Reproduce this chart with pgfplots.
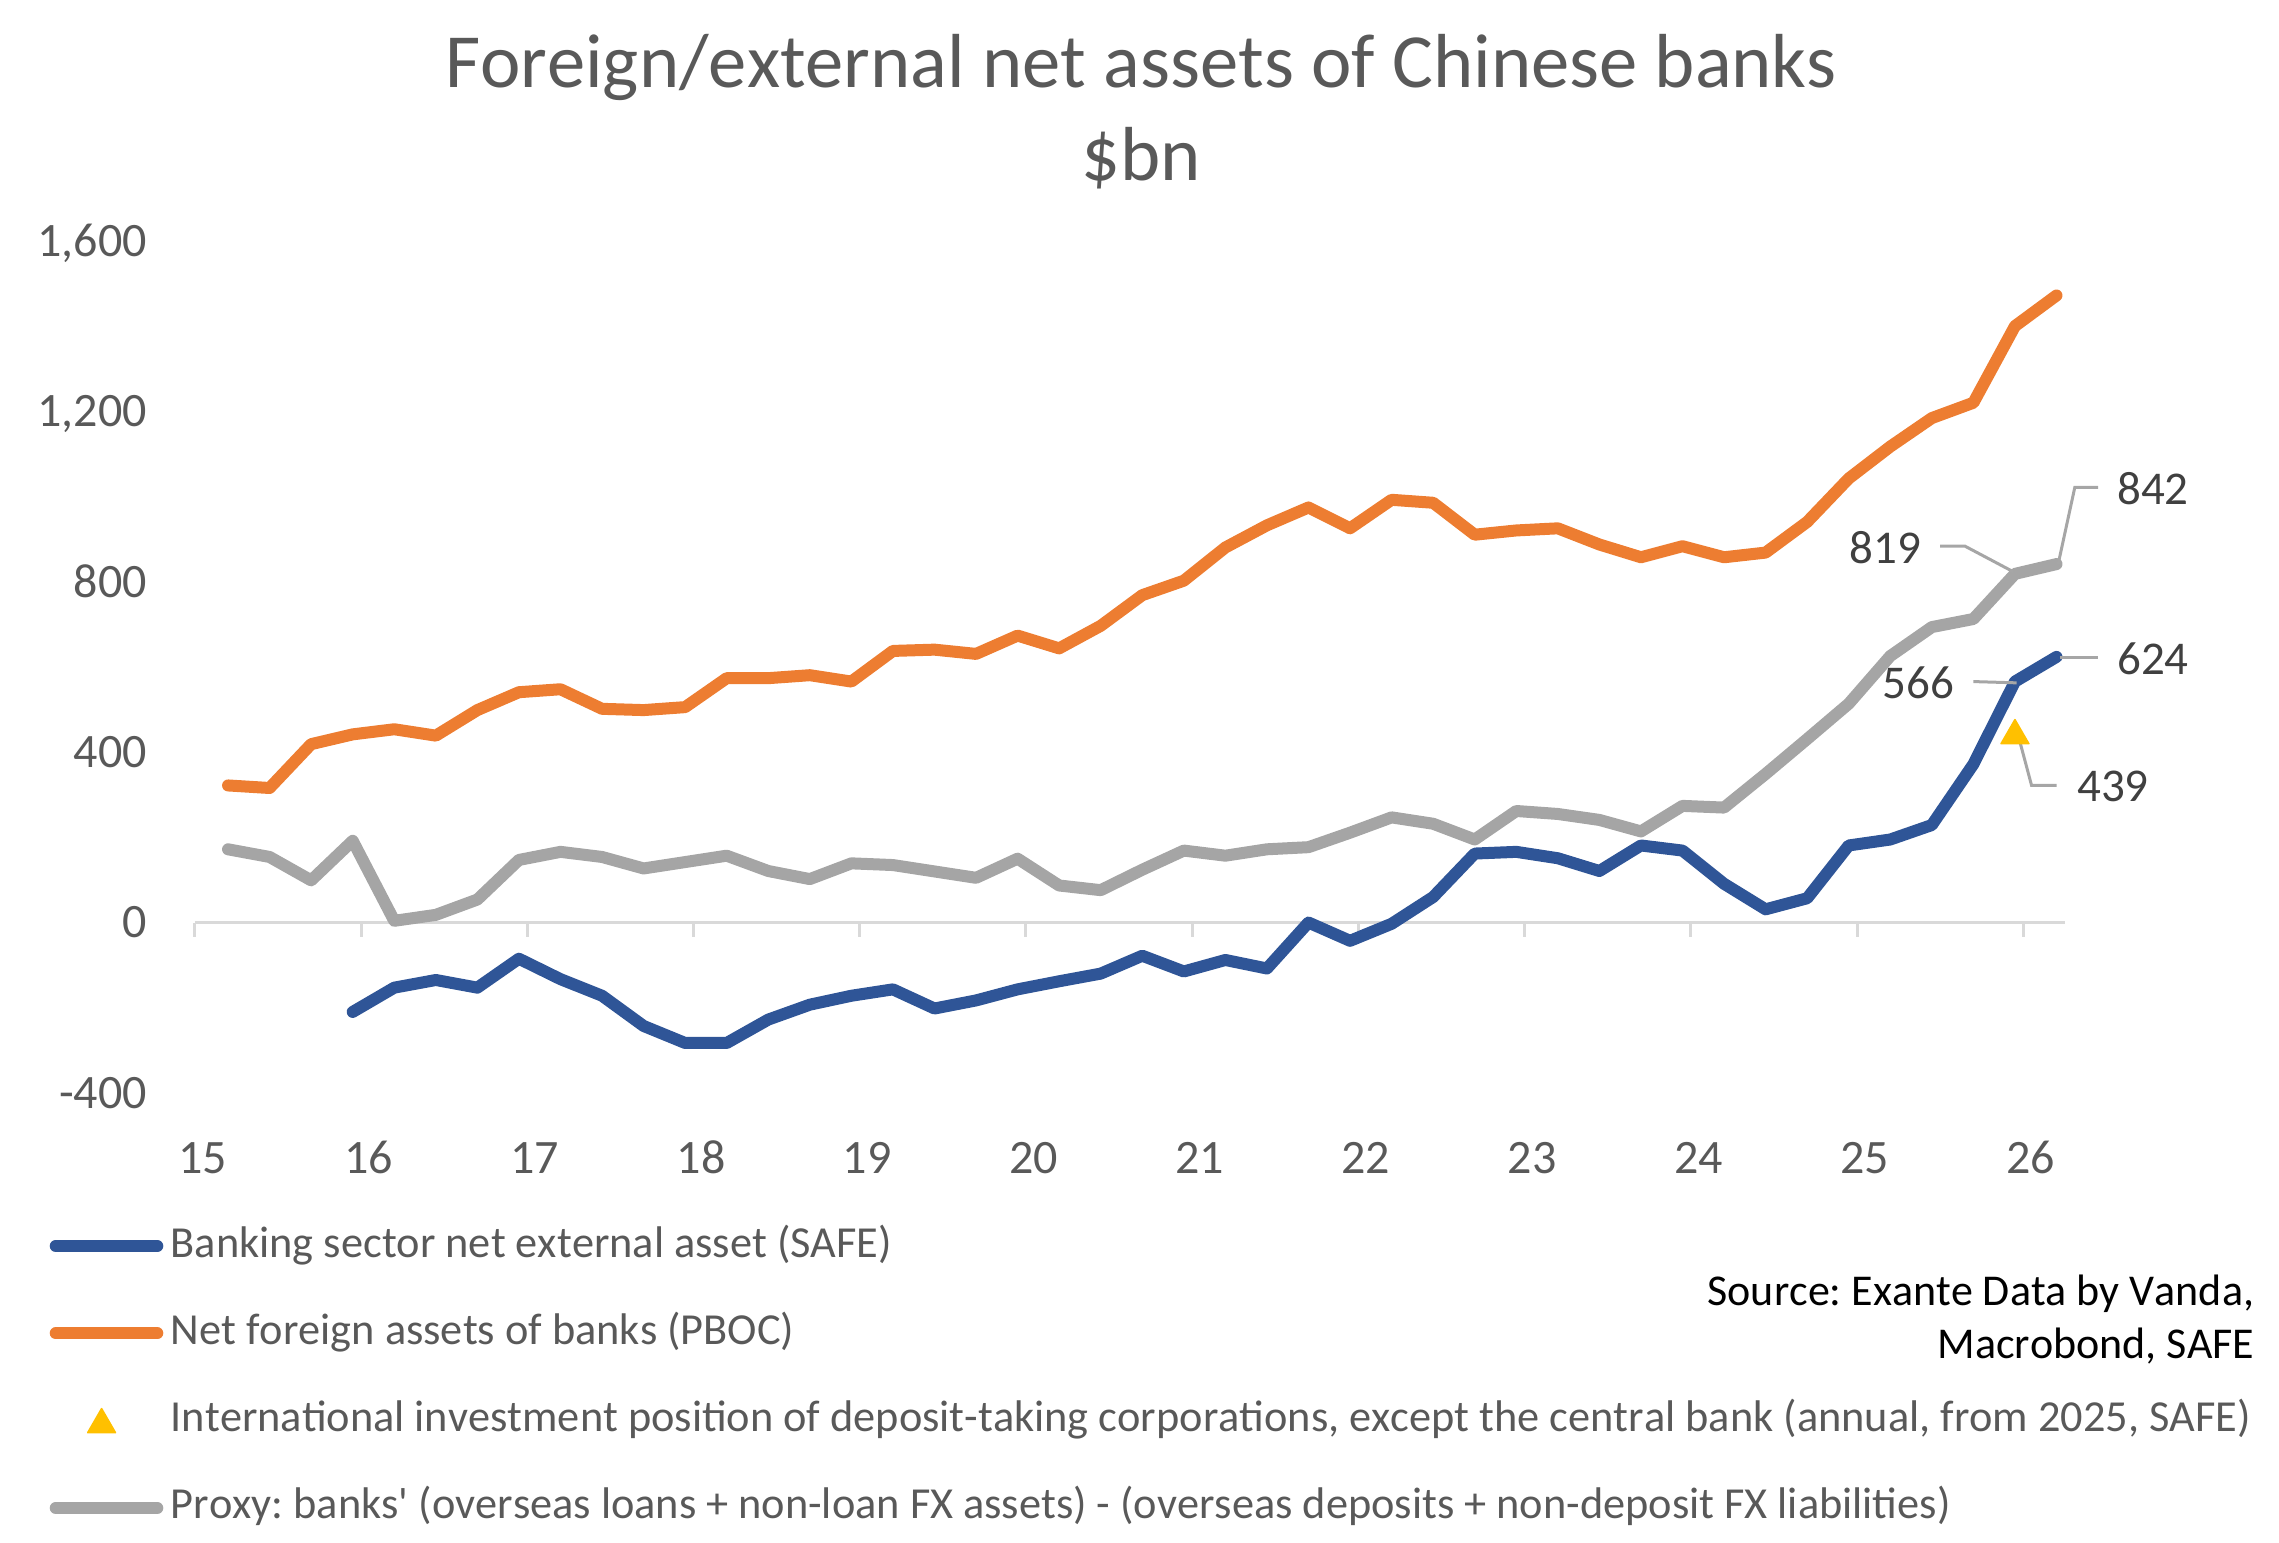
\documentclass[border=0pt]{standalone}
\usepackage{fontspec}
\setmainfont{Carlito}[Kerning=Off]
\usepackage{pgfplots}
\pgfplotsset{compat=1.18}
\usepackage{pgfplotstable}
\frenchspacing
\definecolor{cblue}{HTML}{2F5597}
\definecolor{corange}{HTML}{ED7D31}
\definecolor{cgray}{HTML}{A5A5A5}
\definecolor{cgold}{HTML}{FFC000}
\definecolor{ctext}{HTML}{595959}
\definecolor{clabel}{HTML}{404040}
\definecolor{caxis}{HTML}{D9D9D9}
\definecolor{cleader}{HTML}{A6A6A6}

\pgfplotstableread{
x blue orange gray
15.20 nan 322 172
15.45 nan 316 154
15.70 nan 419 99
15.95 -210 442 192
16.20 -153 454 4
16.45 -135 439 18
16.70 -153 499 54
16.95 -85 541 147
17.20 -133 548 166
17.45 -172 502 154
17.70 -243 499 127
17.95 -283 506 142
18.20 -283 574 157
18.45 -228 574 121
18.70 -193 581 102
18.95 -172 566 139
19.20 -157 638 135
19.45 -202 641 120
19.70 -183 631 105
19.95 -157 674 150
20.20 -138 644 87
20.45 -120 697 76
20.70 -78 769 124
20.95 -115 803 169
21.20 -88 881 157
21.45 -108 933 172
21.70 0 975 177
21.95 -43 926 211
22.20 -3 993 247
22.45 60 986 232
22.70 162 911 195
22.95 166 921 262
23.20 151 926 255
23.45 121 888 241
23.70 181 858 214
23.95 169 884 274
24.20 91 858 270
24.45 31 869 349
24.70 57 941 431
24.95 181 1043 514
25.20 195 1118 626
25.45 229 1185 694
25.70 372 1221 713
25.95 566 1401 819
26.20 624 1473 842
}\datatable

\pgfplotstableread{
x y
25.95 439
}\iipdata

\begin{document}
\begin{tikzpicture}
\useasboundingbox (0pt,0pt) rectangle (569.75pt,385.5pt);
\node[anchor=base, font=\fontsize{19.15}{23}\selectfont, text=ctext, inner sep=0pt] at (285.25pt,363.5pt) {Foreign/external net assets of Chinese banks};
\node[anchor=base, font=\fontsize{19.15}{23}\selectfont, text=ctext, inner sep=0pt] at (285.25pt,340.25pt) {\$bn};
\begin{axis}[
  at={(48.7pt,112.3pt)}, anchor=south west,
  width=467.5pt, height=212.85pt, scale only axis,
  xmin=15, xmax=26.25, ymin=-400, ymax=1600,
  clip=false,
  axis x line*=bottom, axis y line*=left,
  axis line style={draw=none},
  tick style={draw=none},
  xtick={15,16,17,18,19,20,21,22,23,24,25,26},
  xticklabels={15,16,17,18,19,20,21,22,23,24,25,26},
  ytick={-400,0,400,800,1200,1600},
  yticklabels={-400,0,400,800,{1,200},{1,600}},
  xticklabel style={font=\fontsize{12}{14}\selectfont, text=ctext, anchor=base, inner sep=0pt, outer sep=0pt, yshift=-20.2pt, xshift=1.9pt},
  yticklabel style={font=\fontsize{12}{14}\selectfont, text=ctext, anchor=base east, inner sep=0pt, outer sep=0pt, xshift=-12pt, yshift=-3.8pt},
  legend cell align=left,
  legend style={at={(-0.08079,-0.15528)}, anchor=north west, draw=none, fill=none,
    inner sep=0pt, outer sep=0pt, row sep=11.33pt, column sep=-0.73pt,
    font=\fontsize{11.08}{13}\selectfont,
    nodes={inner sep=0pt, outer sep=0pt, text height=8pt, text depth=2.5pt, text=ctext}},
  every axis plot/.append style={line join=round, line cap=round},
]
\draw[caxis, line width=0.75pt] (axis cs:15,0) -- (axis cs:26.25,0);
\pgfplotsinvokeforeach{15,...,26}{\draw[caxis, line width=0.75pt] (axis cs:#1,0) -- ++(0pt,-3.5pt);}

\addplot[cblue, line width=3pt, unbounded coords=jump,
  legend image code/.code={\path (0pt,0pt) (29.5pt,0pt); \draw[cblue, line width=3pt, line cap=round] (1.5pt,0pt) -- (26.9pt,0pt);}]
  table[x=x,y=blue]{\datatable};
\addlegendentry{Banking sector net external asset (SAFE)}

\addplot[corange, line width=3pt,
  legend image code/.code={\path (0pt,0pt) (29.5pt,0pt); \draw[corange, line width=3pt, line cap=round] (1.5pt,0pt) -- (26.9pt,0pt);}]
  table[x=x,y=orange]{\datatable};
\addlegendentry{Net foreign assets of banks (PBOC)}

\addplot[only marks, mark=triangle*, mark size=4pt, color=cgold, mark options={fill=cgold, draw=cgold},
  legend image code/.code={\path (0pt,0pt) (29.5pt,0pt); \draw[only marks, mark=triangle*, mark size=4pt, color=cgold, mark options={fill=cgold, draw=cgold}] plot coordinates {(12.97pt,-1pt)};}]
  table[x=x,y=y]{\iipdata};
\addlegendentry{International investment position of deposit-taking corporations, except the central bank (annual, from 2025, SAFE)}

\addplot[cgray, line width=3pt,
  legend image code/.code={\path (0pt,0pt) (29.5pt,0pt); \draw[cgray, line width=3pt, line cap=round] (1.5pt,0pt) -- (26.9pt,0pt);}]
  table[x=x,y=gray]{\datatable};
\addlegendentry{Proxy: banks\textquotesingle{} (overseas loans + non-loan FX assets) - (overseas deposits + non-deposit FX liabilities)}

% leader lines
\draw[cleader, line width=0.75pt] (axis cs:26.21,842) -- (axis cs:26.31,1022) -- (axis cs:26.45,1022);
\draw[cleader, line width=0.75pt] (axis cs:25.94,824) -- (axis cs:25.65,884) -- (axis cs:25.50,884);
\draw[cleader, line width=0.75pt] (axis cs:26.22,623) -- (axis cs:26.45,623);
\draw[cleader, line width=0.75pt] (axis cs:25.96,563) -- (axis cs:25.70,566);
\draw[cleader, line width=0.75pt] (axis cs:25.97,439) -- (axis cs:26.05,322) -- (axis cs:26.20,322);

\node[font=\fontsize{11.75}{14}\selectfont, text=clabel, inner sep=0pt] at (axis cs:26.78,1020) {842};
\node[font=\fontsize{11.75}{14}\selectfont, text=clabel, inner sep=0pt] at (axis cs:25.17,881) {819};
\node[font=\fontsize{11.75}{14}\selectfont, text=clabel, inner sep=0pt] at (axis cs:26.78,619) {624};
\node[font=\fontsize{11.75}{14}\selectfont, text=clabel, inner sep=0pt] at (axis cs:25.37,562) {566};
\node[font=\fontsize{11.75}{14}\selectfont, text=clabel, inner sep=0pt] at (axis cs:26.54,319) {439};
\end{axis}
\node[anchor=base east, font=\fontsize{11}{13}\selectfont, text=black, inner sep=0pt] at (563.75pt,59.25pt) {Source: Exante Data by Vanda,};
\node[anchor=base east, font=\fontsize{11}{13}\selectfont, text=black, inner sep=0pt] at (563.75pt,46.0pt) {Macrobond, SAFE};
\end{tikzpicture}
\end{document}
